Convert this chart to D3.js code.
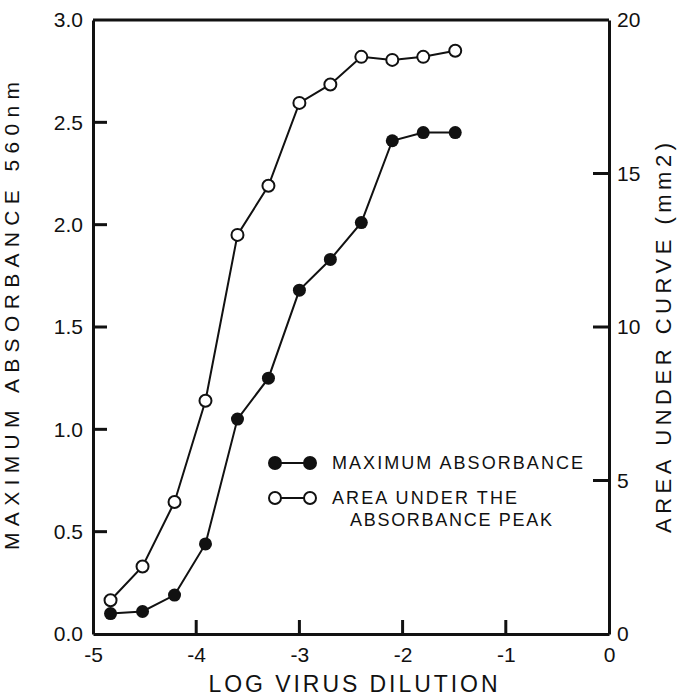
<!DOCTYPE html>
<html lang="en">
    <head>
        <meta charset="utf-8">
        <title>Absorbance vs virus dilution</title>
        <script src="https://d3js.org/d3.v7.min.js"></script>
        <style type="text/css">
            body { margin: 0; background: #fff; }
            text {
                font-family: "Liberation Sans", "DejaVu Sans", sans-serif;
                fill: #111;
            }
            .tick text { font-size: 21px; }
        </style>
    </head>
    <body>
        <script type="text/javascript">

            //Data
            const dilution = [-4.83, -4.52, -4.21, -3.91, -3.60, -3.30, -3.00, -2.70, -2.40, -2.10, -1.80, -1.49];
            const maxAbsorbance = [0.10, 0.11, 0.19, 0.44, 1.05, 1.25, 1.68, 1.83, 2.01, 2.41, 2.45, 2.45];
            const peakArea = [1.1, 2.2, 4.3, 7.6, 13.0, 14.6, 17.3, 17.9, 18.8, 18.7, 18.8, 19.0];

            const xTicks = [-5, -4, -3, -2, -1, 0];
            const leftTicks = [0, 0.5, 1.0, 1.5, 2.0, 2.5, 3.0];
            const rightTicks = [0, 5, 10, 15, 20];

            //declare consts
            const w = 677;
            const h = 696;
            const padL = 93, padR = 609, padT = 20, padB = 634;
            const ink = "#111";

            const svg = d3.select("body")
                    .append("svg")
                    .attr("width", w)
                    .attr("height", h);

            //scales
            const x = d3.scaleLinear().domain([-5, 0]).range([padL, padR]);
            const yL = d3.scaleLinear().domain([0, 3]).range([padB, padT]);
            const yR = d3.scaleLinear().domain([0, 20]).range([padB, padT]);

            //axes (labels + domain), tick marks added below pointing inwards
            svg.append("g")
                .attr("transform", "translate(0," + padB + ")")
                .call(d3.axisBottom(x).tickValues(xTicks).tickSize(0)
                        .tickPadding(13).tickFormat(d => d3.format("d")(d).replace("\u2212", "-")));

            svg.append("g")
                .attr("transform", "translate(" + padL + ",0)")
                .call(d3.axisLeft(yL).tickValues(leftTicks).tickSize(0)
                        .tickPadding(10).tickFormat(d3.format(".1f")));

            svg.append("g")
                .attr("transform", "translate(" + padR + ",0)")
                .call(d3.axisRight(yR).tickValues(rightTicks).tickSize(0)
                        .tickPadding(8).tickFormat(d3.format("d")));

            svg.selectAll(".domain")
                .attr("stroke", ink)
                .attr("stroke-width", 3);

            //inward tick marks
            const tickG = svg.append("g")
                .attr("stroke", ink)
                .attr("stroke-width", 3);

            tickG.selectAll("line.xt")
                .data(xTicks.slice(1, -1))
                .enter()
                .append("line")
                .attr("x1", d => x(d)).attr("x2", d => x(d))
                .attr("y1", padB).attr("y2", padB - 14);

            tickG.selectAll("line.lt")
                .data(leftTicks.slice(1, -1))
                .enter()
                .append("line")
                .attr("x1", padL).attr("x2", padL + 14)
                .attr("y1", d => yL(d)).attr("y2", d => yL(d));

            tickG.selectAll("line.rt")
                .data(rightTicks.slice(1, -1))
                .enter()
                .append("line")
                .attr("x1", padR).attr("x2", padR - 16)
                .attr("y1", d => yR(d)).attr("y2", d => yR(d));

            //top line of the frame
            tickG.append("line")
                .attr("x1", x.range()[0]).attr("x2", x.range()[1])
                .attr("y1", yL.range()[1]).attr("y2", yL.range()[1]);

            //axis titles
            svg.append("text")
                .attr("x", 353).attr("y", 692)
                .attr("text-anchor", "middle")
                .attr("font-size", 23)
                .attr("textLength", 289).attr("lengthAdjust", "spacing")
                .text("LOG VIRUS DILUTION");

            svg.append("text")
                .attr("transform", "translate(19,316) rotate(-90)")
                .attr("text-anchor", "middle")
                .attr("font-size", 21)
                .attr("textLength", 468).attr("lengthAdjust", "spacing")
                .text("MAXIMUM ABSORBANCE 560nm");

            svg.append("text")
                .attr("transform", "translate(671,338) rotate(-90)")
                .attr("text-anchor", "middle")
                .attr("font-size", 22)
                .attr("textLength", 390).attr("lengthAdjust", "spacing")
                .text("AREA UNDER CURVE (mm2)");

            //series
            const lineAbs = d3.line().x((d, i) => x(dilution[i])).y(d => yL(d));
            const lineArea = d3.line().x((d, i) => x(dilution[i])).y(d => yR(d));

            svg.append("path")
                .datum(peakArea)
                .attr("fill", "none").attr("stroke", ink).attr("stroke-width", 2)
                .attr("d", lineArea);

            svg.append("path")
                .datum(maxAbsorbance)
                .attr("fill", "none").attr("stroke", ink).attr("stroke-width", 2)
                .attr("d", lineAbs);

            svg.selectAll("circle.area")
                .data(peakArea)
                .enter()
                .append("circle")
                .attr("class", "area")
                .attr("cx", (d, i) => x(dilution[i]))
                .attr("cy", d => yR(d))
                .attr("r", 6)
                .attr("fill", "#fff").attr("stroke", ink).attr("stroke-width", 2);

            svg.selectAll("circle.abs")
                .data(maxAbsorbance)
                .enter()
                .append("circle")
                .attr("class", "abs")
                .attr("cx", (d, i) => x(dilution[i]))
                .attr("cy", d => yL(d))
                .attr("r", 6.5)
                .attr("fill", ink);

            //legend
            const legend = [
                {filled: true, lines: ["MAXIMUM ABSORBANCE"], len: [251]},
                {filled: false, lines: ["AREA UNDER THE", "ABSORBANCE PEAK"], len: [185, 202]}
            ];

            const lg = svg.selectAll("g.legend")
                .data(legend)
                .enter()
                .append("g")
                .attr("class", "legend")
                .attr("transform", (d, i) => "translate(275," + (463 + i * 35) + ")");

            lg.append("line")
                .attr("x1", 0).attr("x2", 35)
                .attr("stroke", ink).attr("stroke-width", 2);

            lg.selectAll("circle")
                .data(d => [d, d])
                .enter()
                .append("circle")
                .attr("cx", (d, i) => i * 35)
                .attr("r", 6)
                .attr("fill", d => d.filled ? ink : "#fff")
                .attr("stroke", ink).attr("stroke-width", 2);

            lg.selectAll("text")
                .data(d => d.lines.map((t, i) => ({t: t, i: i, len: d.len[i]})))
                .enter()
                .append("text")
                .attr("x", d => d.i ? 75 : 57)
                .attr("y", d => 6 + d.i * 22)
                .attr("font-size", 18)
                .attr("textLength", d => d.len).attr("lengthAdjust", "spacing")
                .text(d => d.t);

        </script>
    </body>
</html>
